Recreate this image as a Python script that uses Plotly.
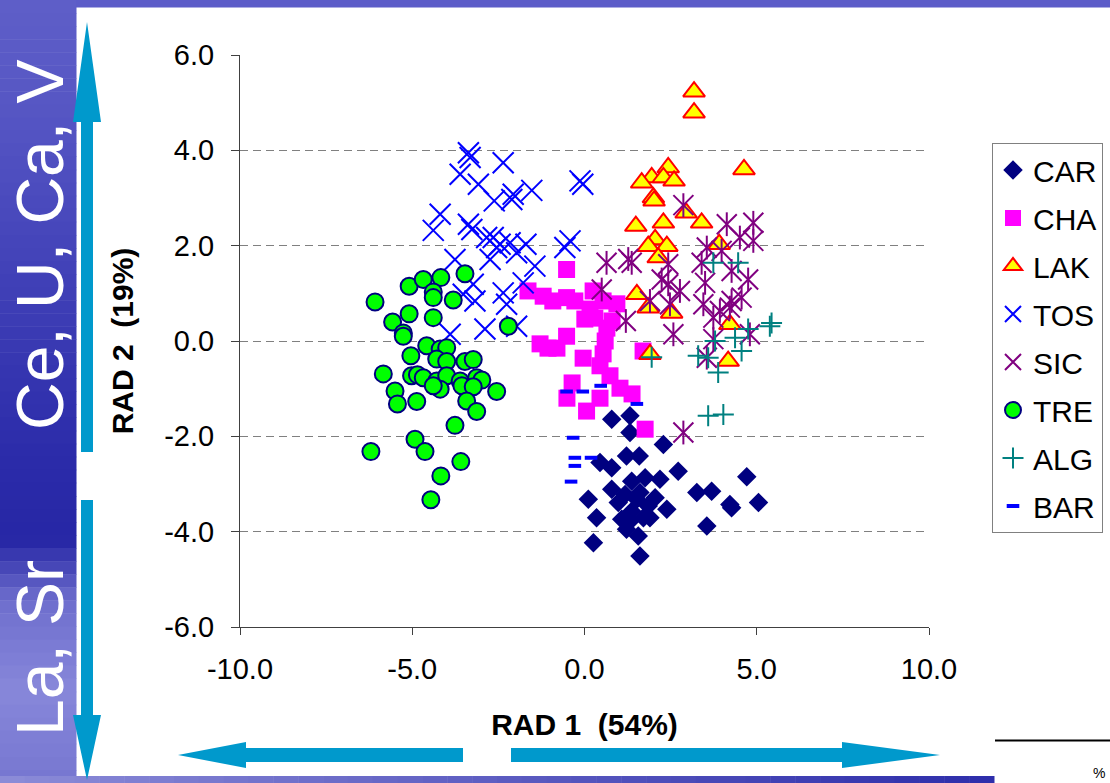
import plotly.graph_objects as go

# ---------------- data ----------------
CAR_x = [0.79, 1.32, 1.32, 2.29, 0.45, 0.79, 1.22, 1.59, 2.72, 2.19, 1.76, 1.37, 0.11, 0.79, 1.18, 1.61,
         2.05, 1.52, 0.98, 1.85, 2.39, 0.35, 1.37, 1.71, 1.32, 1.90, 1.22, 1.56, 0.26, 1.61, 3.26, 3.69,
         4.22, 4.27, 4.71, 5.05, 3.55, 1.08]
CAR_y = [-1.64, -1.57, -1.92, -2.17, -2.55, -2.66, -2.41, -2.41, -2.73, -2.90, -2.87, -2.94, -3.32, -3.11,
         -3.22, -3.18, -3.29, -3.32, -3.39, -3.46, -3.53, -3.71, -3.57, -3.71, -3.78, -3.71, -3.95, -4.09,
         -4.23, -4.51, -3.18, -3.15, -3.43, -3.50, -2.85, -3.39, -3.88, -3.74]

CHA_x = [-1.64, -1.20, -0.92, -0.52, -0.28, 0.25, 0.54, 0.94, 0.16, 0.30, 0.65, -0.52, -0.52, -1.06, -0.80,
         0.60, 0.54, -0.04, 0.45, 1.70, -0.36, -0.51, 0.06, 0.45, 1.03, 1.38, 1.76, -1.29, 0.80, 0.01, 0.74]
CHA_y = [1.05, 0.94, 0.84, 0.91, 0.84, 1.05, 0.84, 0.78, 0.67, 0.48, 0.27, 1.50, 0.10, -0.15, -0.15,
         0.00, -0.27, -0.36, -0.52, -0.21, -0.88, -1.20, -1.47, -1.20, -0.99, -1.11, -1.85, -0.06, 0.42, 0.46, -0.73]

LAK_x = [3.18, 3.18, 2.43, 1.95, 1.66, 2.29, 2.60, 2.00, 2.02, 2.95, 3.40, 4.63, 2.29, 1.49, 2.05, 1.85,
         2.39, 2.14, 3.91, 1.52, 1.85, 2.53, 4.22, 1.90, 4.17]
LAK_y = [5.23, 4.79, 3.64, 3.43, 3.32, 3.43, 3.36, 3.01, 2.94, 2.69, 2.48, 3.60, 2.48, 2.41, 2.13, 1.99,
         1.99, 1.75, 2.03, 0.98, 0.70, 0.59, 0.35, -0.28, -0.42]

TOS_x = [-3.37, -3.32, -2.36, -3.61, -3.08, -0.13, -0.05, -1.53, -2.07, -2.11, -2.62, -4.19, -4.39, -3.37,
         -3.27, -2.84, -2.65, -2.45, -2.55, -2.16, -1.70, -0.42, -0.57, -1.97, -2.74, -3.76, -1.44, -1.78,
         -3.23, -3.52, -3.18, -2.36, -2.26, -1.97, -2.89, -3.90]
TOS_y = [3.95, 3.85, 3.74, 3.50, 3.29, 3.36, 3.29, 3.16, 3.08, 2.97, 2.94, 2.66, 2.32, 2.45, 2.34, 2.17,
         2.17, 2.03, 1.96, 2.06, 2.03, 2.10, 1.96, 1.85, 1.71, 1.71, 1.57, 1.22, 1.19, 0.98, 0.84, 1.01,
         0.77, 0.31, 0.25, 0.14]

SIC_x = [0.64, 1.27, 1.37, 0.50, 1.20, 1.90, 2.43, 2.24, 2.43, 2.77, 2.48, 2.58, 2.87, 3.40, 3.55, 3.50,
         3.45, 3.74, 3.93, 3.74, 3.55, 4.13, 4.51, 4.90, 4.90, 4.27, 4.75, 4.56, 4.27, 4.22, 4.80, 2.87, 3.98]
SIC_y = [1.64, 1.72, 1.64, 1.08, 0.42, 0.84, 1.61, 1.29, 1.19, 1.05, 0.77, 0.14, 2.85, 1.64, 1.96, 1.22,
         0.77, 0.49, 0.63, 0.04, -0.35, 2.45, 2.17, 2.48, 2.10, 1.47, 1.29, 0.91, 0.84, 0.70, 0.14, -1.92, 1.89]

TRE_x = [-6.08, -5.09, -4.68, -4.17, -3.47, -4.39, -4.39, -3.81, -5.09, -5.57, -5.26, -5.26, -4.39, -2.21,
         -4.58, -5.04, -5.84, -4.19, -4.00, -4.29, -4.00, -3.47, -3.23, -5.02, -4.85, -4.68, -4.29, -4.00,
         -3.61, -3.13, -2.98, -4.19, -4.39, -3.56, -3.23, -2.55, -5.50, -5.43, -4.87, -3.42, -3.13, -3.76,
         -4.92, -4.63, -6.20, -3.59, -4.17, -4.46]
TRE_y = [0.82, 1.15, 1.29, 1.33, 1.41, 1.03, 0.91, 0.86, 0.57, 0.40, 0.17, 0.10, 0.49, 0.31, -0.10, -0.31,
         -0.69, -0.17, -0.14, -0.38, -0.43, -0.43, -0.39, -0.73, -0.71, -0.77, -0.84, -0.73, -0.84, -0.77,
         -0.82, -1.01, -0.94, -0.94, -0.96, -1.06, -1.05, -1.32, -1.27, -1.26, -1.48, -1.77, -2.06, -2.32,
         -2.32, -2.53, -2.83, -3.33]

ALG_x = [3.74, 4.46, 5.43, 5.38, 4.75, 4.37, 3.79, 4.56, 3.30, 3.59, 3.88, 3.59, 4.03, 1.95]
ALG_y = [1.64, 1.64, 0.38, 0.31, 0.25, 0.07, 0.00, -0.21, -0.31, -0.35, -0.66, -1.57, -1.54, -0.34]

BAR_x = [-0.52, -0.05, 0.47, 1.52, -0.33, -0.28, 0.19, -0.28, -0.39]
BAR_y = [-1.06, -1.06, -0.94, -1.32, -2.03, -2.45, -2.45, -2.62, -2.95]

x_tickvals = [-10, -5, 0, 5, 10]
x_ticktext = ["-10.0", "-5.0", "0.0", "5.0", "10.0"]
y_tickvals = [-6, -4, -2, 0, 2, 4, 6]
y_ticktext = ["-6.0", "-4.0", "-2.0", "0.0", "2.0", "4.0", "6.0"]

x_title = "RAD 1\u00a0 (54%)"
y_title = "RAD 2\u00a0 (19%)"
side_top_text = "Ce, U, Ca, V"
side_bottom_text = "La, Sr"

# ---------------- figure geometry ----------------
W, H = 1110, 783
L, R, T, B = 240, 929, 55, 627  # plot area in pixels


def px(xp):
    return (xp - L) / (R - L)


def py(yp):
    return (B - yp) / (B - T)


FONT = "Liberation Sans, Arial, sans-serif"

fig = go.Figure()


def add(xs, ys, name, symbol, size, color, line_color=None, line_width=0, showlegend=True):
    fig.add_trace(go.Scatter(
        x=xs, y=ys, mode="markers", name=name, legendgroup=name, showlegend=showlegend,
        marker=dict(symbol=symbol, size=size, color=color,
                    line=dict(color=line_color or color, width=line_width)),
        hoverinfo="x+y+name",
    ))


add(CAR_x, CAR_y, "CAR", "diamond", 15, "#000080")
add(CHA_x, CHA_y, "CHA", "square", 17, "#FF00FF")
add(LAK_x, LAK_y, "LAK", "triangle-up", 19, "#FFFF00", "#FF0000", 2)
add(TOS_x, TOS_y, "TOS", "x-thin-open", 21, "#0000FF", "#0000FF", 2)
add(SIC_x, SIC_y, "SIC", "x-thin-open", 20, "#800080", "#800080", 2)
# vertical stroke of the SIC asterisk (same points, no separate legend entry)
add(SIC_x, SIC_y, "SIC", "line-ns", 17, "#800080", "#800080", 2, showlegend=False)
add(TRE_x, TRE_y, "TRE", "circle", 17, "#00FF00", "#000080", 2)
add(ALG_x, ALG_y, "ALG", "cross-thin-open", 15, "#008080", "#008080", 2)
add(BAR_x, BAR_y, "BAR", "line-ew-open", 9, "#0000FF", "#0000FF", 4)

shapes = []


def rect(x0, y0, x1, y1, color):
    shapes.append(dict(type="rect", xref="paper", yref="paper",
                       x0=px(x0), x1=px(x1), y0=py(y1), y1=py(y0),
                       fillcolor=color, line=dict(width=0), layer="below"))


def lerp(c1, c2, t):
    return tuple(int(round(a + (b - a) * t)) for a, b in zip(c1, c2))


# left textured blue band (vertical gradient)
stops = [(0, (95, 95, 200)), (120, (85, 85, 195)), (300, (62, 62, 182)), (450, (44, 44, 170)),
         (540, (38, 38, 165)), (600, (110, 110, 205)), (690, (135, 135, 218)), (783, (118, 118, 208))]
n = 60
for i in range(n):
    y0 = H * i / n
    y1 = H * (i + 1) / n
    yc = (y0 + y1) / 2
    for (ya, ca), (yb, cb) in zip(stops[:-1], stops[1:]):
        if ya <= yc <= yb:
            c = lerp(ca, cb, (yc - ya) / (yb - ya))
            break
    rect(0, y0, 76.5, y1 + 0.5, "rgb(%d,%d,%d)" % c)

# top band
rect(76, 0, W, 7.5, "rgb(92,92,200)")
# bottom band (horizontal gradient)
m = 40
for i in range(m):
    x0 = 994 * i / m
    x1 = 994 * (i + 1) / m
    c = lerp((140, 140, 216), (45, 45, 170), (i + 0.5) / m)
    rect(x0, 776, x1 + 0.5, H, "rgb(%d,%d,%d)" % c)

ARROW = "#0099CC"


def poly(points):
    d = "M " + " L ".join("%.5f,%.5f" % (px(a), py(b)) for a, b in points) + " Z"
    shapes.append(dict(type="path", xref="paper", yref="paper", path=d,
                       fillcolor=ARROW, line=dict(width=0)))


# vertical arrows
cx = 87
poly([(cx, 22), (cx + 14, 122), (cx + 6, 122), (cx + 6, 452), (cx - 6, 452), (cx - 6, 122), (cx - 14, 122)])
poly([(cx - 6, 500), (cx + 6, 500), (cx + 6, 715), (cx + 14, 715), (cx, 780), (cx - 14, 715), (cx - 6, 715)])
# horizontal arrows
cy = 755
poly([(178, cy), (246, cy - 13), (246, cy - 7), (463, cy - 7), (463, cy + 7), (246, cy + 7), (246, cy + 13)])
poly([(511, cy - 7), (842, cy - 7), (842, cy - 13), (940, cy), (842, cy + 13), (842, cy + 7), (511, cy + 7)])

# black line bottom right
shapes.append(dict(type="line", xref="paper", yref="paper", x0=px(995), x1=px(W), y0=py(740.5), y1=py(740.5),
                   line=dict(color="black", width=2)))

annotations = [
    dict(text=side_top_text, xref="paper", yref="paper", x=px(40), y=py(245), showarrow=False,
         textangle=-90, font=dict(family=FONT, size=66, color="white"), xanchor="center", yanchor="middle"),
    dict(text=side_bottom_text, xref="paper", yref="paper", x=px(40), y=py(648), showarrow=False,
         textangle=-90, font=dict(family=FONT, size=66, color="white"), xanchor="center", yanchor="middle"),
    dict(text="%", xref="paper", yref="paper", x=px(1099), y=py(773), showarrow=False,
         font=dict(family=FONT, size=14, color="black"), xanchor="center", yanchor="middle"),
]

fig.update_layout(
    width=W, height=H,
    margin=dict(l=L, r=W - R, t=T, b=H - B, autoexpand=False),
    paper_bgcolor="white", plot_bgcolor="white",
    font=dict(family=FONT, size=29, color="black"),
    shapes=shapes, annotations=annotations,
    legend=dict(x=px(992), y=py(143), xanchor="left", yanchor="top",
                bgcolor="white", bordercolor="#808080", borderwidth=1,
                font=dict(family=FONT, size=30, color="black"),
                traceorder="grouped", tracegroupgap=6, itemsizing="trace"),
    xaxis=dict(range=[-10, 10], tickvals=x_tickvals, ticktext=x_ticktext,
               showgrid=False, zeroline=False, showline=True, linecolor="#404040", linewidth=1,
               ticks="outside", ticklen=7, tickcolor="#404040", ticklabelstandoff=9,
               title=dict(text=x_title, font=dict(family=FONT, size=30, color="black", weight="bold"),
                          standoff=30),
               automargin=False),
    yaxis=dict(range=[-6, 6], tickvals=y_tickvals, ticktext=y_ticktext,
               showgrid=True, gridcolor="#808080", gridwidth=1.2, griddash="8px,5px",
               zeroline=False, showline=True, linecolor="#404040", linewidth=1,
               ticks="outside", ticklen=8, tickcolor="#404040", ticklabelstandoff=11,
               title=dict(text=y_title, font=dict(family=FONT, size=30, color="black", weight="bold"),
                          standoff=21),
               automargin=False),
)

fig.write_html("out.html")
